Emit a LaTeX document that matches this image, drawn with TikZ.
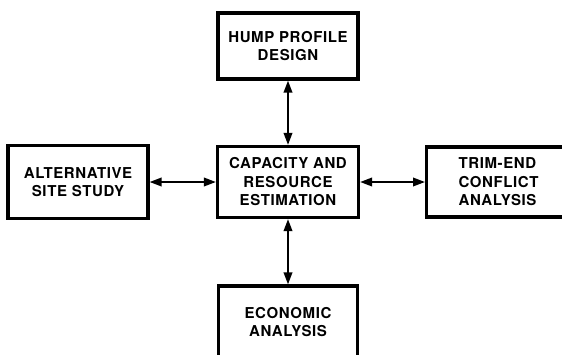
\documentclass[tikz,border=0pt]{standalone}
\usepackage{fontspec}
\setmainfont{TeX Gyre Heros}[LetterSpace=4]
\usetikzlibrary{arrows.meta}
\begin{document}
\begin{tikzpicture}[x=1pt,y=-1pt,
  block/.style={draw, line width=3.2pt, rectangle, inner sep=0pt, align=center,
    font=\fontsize{15}{18.5}\selectfont\bfseries},
  link/.style={line width=2pt, {Triangle[length=12pt,width=8.5pt]}-{Triangle[length=12pt,width=8.5pt]}}]
  \useasboundingbox (0,0) rectangle (562,354);
  \clip (0,0) rectangle (562,354);
  % boxes
  \node[block, minimum width=140pt, minimum height=66pt] (hump) at (288,46)
    {HUMP PROFILE\\DESIGN};
  \node[block, minimum width=140pt, minimum height=73pt] (alt) at (78,182)
    {ALTERNATIVE\\SITE STUDY};
  \node[block, minimum width=141pt, minimum height=71pt] (cap) at (288,182)
    {CAPACITY AND\\RESOURCE\\ESTIMATION};
  \node[block, anchor=west, align=left, text width=84pt, inner xsep=32pt,
    minimum height=70pt] (trim) at (425,182)
    {TRIM-END\\CONFLICT\\ANALYSIS};
  \node[block, minimum width=139pt, minimum height=72pt] (econ) at (288,322)
    {ECONOMIC\\ANALYSIS};
  % connectors
  \draw[link] (hump.south) -- (cap.north);
  \draw[link] (alt.east) -- (cap.west);
  \draw[link] (cap.east) -- (trim.west);
  \draw[link] (cap.south) -- (econ.north);
\end{tikzpicture}
\end{document}
